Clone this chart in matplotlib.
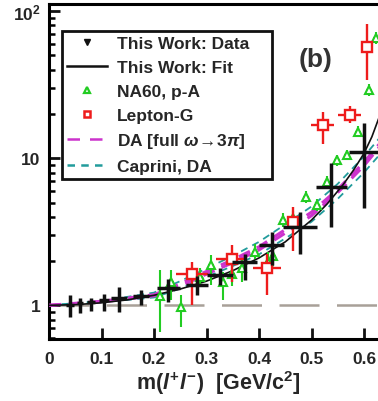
import numpy as np
import matplotlib
matplotlib.use("Agg")
import matplotlib.pyplot as plt
from matplotlib.lines import Line2D
from matplotlib.ticker import FixedLocator, FixedFormatter, LogLocator, NullFormatter

plt.rcParams['font.family'] = ['Liberation Sans', 'DejaVu Sans']
plt.rcParams['mathtext.fontset'] = 'custom'
plt.rcParams['mathtext.rm'] = 'Liberation Sans:bold'
plt.rcParams['mathtext.bf'] = 'Liberation Sans:bold'
plt.rcParams['mathtext.it'] = 'Liberation Sans:bold:italic'

# This Work: data (x, xerr, y, y_low, y_high)
data_x = [0.040, 0.059, 0.080, 0.105, 0.133, 0.175, 0.227, 0.281, 0.326, 0.373, 0.424, 0.478, 0.538, 0.600]
data_xerr = [0.008, 0.006, 0.007, 0.010, 0.015, 0.015, 0.022, 0.021, 0.025, 0.024, 0.024, 0.032, 0.029, 0.029]
data_y = [1.01, 1.03, 1.05, 1.08, 1.12, 1.16, 1.31, 1.38, 1.62, 1.98, 2.56, 3.42, 6.41, 11.1]
data_lo = [0.83, 0.89, 0.91, 0.91, 0.90, 1.00, 1.05, 1.17, 1.37, 1.48, 1.87, 2.25, 3.42, 4.56]
data_hi = [1.17, 1.12, 1.13, 1.20, 1.33, 1.27, 1.52, 1.59, 1.78, 2.25, 3.16, 4.33, 9.25, 17.3]

# This Work: fit curve
fit_x = [0.0, 0.05, 0.1, 0.15, 0.2, 0.25, 0.3, 0.35, 0.4, 0.45, 0.5, 0.53, 0.56, 0.58, 0.6, 0.615, 0.63]
fit_y = [1.0, 1.01, 1.04, 1.09, 1.17, 1.29, 1.46, 1.72, 2.1, 2.7, 3.8, 4.9, 6.6, 8.3, 10.8, 14.0, 19.5]

# NA60, p-A
na60_x = [0.211, 0.232, 0.251, 0.288, 0.308, 0.331, 0.348, 0.367, 0.392, 0.418, 0.427, 0.446, 0.465, 0.490, 0.510, 0.529, 0.548, 0.568, 0.589, 0.610, 0.623]
na60_y = [1.15, 1.44, 0.975, 1.56, 1.87, 1.44, 1.64, 1.78, 2.30, 1.98, 2.15, 3.80, 3.90, 5.48, 4.80, 6.95, 9.70, 10.5, 15.2, 29.0, 66.0]
na60_lo = [0.66, 1.08, 0.71, 1.35, 1.37, 1.08, 1.35, 1.45, 2.05, 1.70, 1.85, 3.40, 3.50, 5.00, 4.35, 6.40, 8.90, 9.70, 14.0, 26.5, 60.0]
na60_hi = [1.75, 1.73, 1.17, 1.80, 2.19, 1.69, 1.95, 2.10, 2.60, 2.30, 2.50, 4.25, 4.35, 6.00, 5.30, 7.60, 10.6, 11.4, 16.5, 32.0, 72.0]

# Lepton-G
lep_x = [0.272, 0.348, 0.415, 0.465, 0.521, 0.573, 0.605]
lep_xerr = [0.031, 0.030, 0.026, 0.012, 0.022, 0.022, 0.010]
lep_y = [1.64, 2.08, 1.78, 3.70, 16.9, 19.7, 56.7]
lep_lo = [1.00, 1.44, 1.17, 2.33, 12.6, 17.3, 34.2]
lep_hi = [1.98, 2.56, 2.25, 4.68, 20.8, 22.5, 81.5]

# DA [full omega->3pi] band and Caprini band
band_x = [0.0, 0.1, 0.2, 0.25, 0.3, 0.35, 0.4, 0.45, 0.5, 0.55, 0.6, 0.63]
da_hi = [1.0, 1.065, 1.18, 1.40, 1.70, 2.04, 2.50, 3.27, 4.30, 6.15, 9.4, 12.6]
da_lo = [1.0, 1.055, 1.16, 1.35, 1.63, 1.95, 2.38, 3.10, 4.07, 5.85, 8.9, 12.0]
cap_hi = [1.0, 1.07, 1.22, 1.46, 1.78, 2.17, 2.70, 3.55, 4.70, 6.70, 10.3, 13.8]
cap_lo = [1.0, 1.05, 1.13, 1.30, 1.56, 1.85, 2.22, 2.85, 3.70, 5.30, 8.0, 10.6]

black = '#111111'
green = '#22cc22'
red = '#ee1c1c'
magenta = '#cc33cc'
cyan = '#229c9c'
grey = '#a8a098'
textc = '#262626'

fig = plt.figure(figsize=(3.78, 4.02), dpi=100)
ax = fig.add_axes([49 / 378, 62 / 402, 367.5 / 378, 335 / 402])

ax.axhline(1.0, color=grey, lw=1.8, dashes=(16, 7), zorder=1)

for yy in (cap_hi, cap_lo):
    ax.plot(band_x, yy, color=cyan, lw=1.3, dashes=(4, 3), zorder=3)
for yy in (da_hi, da_lo):
    ax.plot(band_x, yy, color=magenta, lw=2.2, dashes=(4, 2.5), zorder=3)

ax.plot(fit_x, fit_y, color=black, lw=1.2, zorder=4)

na60_err = [np.array(na60_y) - np.array(na60_lo), np.array(na60_hi) - np.array(na60_y)]
ax.errorbar(na60_x, na60_y, yerr=na60_err, xerr=0.006, fmt='^', ms=5.5, mfc='white',
            mec=green, mew=1.5, color=green, elinewidth=1.5, capsize=0, zorder=5)

lep_err = [np.array(lep_y) - np.array(lep_lo), np.array(lep_hi) - np.array(lep_y)]
ax.errorbar(lep_x, lep_y, yerr=lep_err, xerr=lep_xerr, fmt='s', ms=6.5, mfc='white',
            mec=red, mew=1.7, color=red, elinewidth=1.7, capsize=0, zorder=6)

data_err = [np.array(data_y) - np.array(data_lo), np.array(data_hi) - np.array(data_y)]
ax.errorbar(data_x, data_y, yerr=data_err, xerr=data_xerr, fmt='none',
            color=black, elinewidth=2.5, capsize=0, zorder=7)

ax.set_yscale('log')
ax.set_xlim(0, 0.7)
ax.set_ylim(0.59, 112)

ax.xaxis.set_major_locator(FixedLocator([0, 0.1, 0.2, 0.3, 0.4, 0.5, 0.6]))
ax.xaxis.set_major_formatter(FixedFormatter(['0', '0.1', '0.2', '0.3', '0.4', '0.5', '0.6']))
ax.yaxis.set_major_locator(FixedLocator([1, 10, 100]))
ax.yaxis.set_major_formatter(FixedFormatter(['1', '10', r'$\mathbf{10^{2}}$']))
ax.yaxis.set_minor_locator(LogLocator(base=10, subs=np.arange(2, 10)))
ax.yaxis.set_minor_formatter(NullFormatter())

ax.tick_params(axis='both', which='major', direction='in', length=8, width=2,
               labelsize=12.5, colors=black)
ax.tick_params(axis='x', which='major', pad=9)
ax.tick_params(axis='y', which='major', pad=6)
ax.tick_params(axis='y', which='minor', direction='in', length=4, width=1.8)
for lab in ax.get_xticklabels() + ax.get_yticklabels():
    lab.set_fontweight('bold')
    lab.set_color(textc)
for s in ax.spines.values():
    s.set_linewidth(2.2)

ax.set_xlabel(r'm($\mathit{l}^{+}\mathit{l}^{-}$)  [GeV/c$^{2}$]', fontsize=15.5,
              fontweight='bold', color=textc)
ax.xaxis.set_label_coords((218 - 49) / 367.5, -0.088)
ax.xaxis.label.set_va('top')

ax.text(0.507, 47, '(b)', fontsize=19, fontweight='bold', color='#333333',
        ha='center', va='center')

handles = [
    Line2D([], [], color=black, marker='v', ls='none', ms=4.5),
    Line2D([], [], color=black, lw=1.8),
    Line2D([], [], color=green, marker='^', ls='none', ms=5, mfc='white', mew=1.6),
    Line2D([], [], color=red, marker='s', ls='none', ms=5, mfc='white', mew=1.8),
    Line2D([], [], color=magenta, lw=1.8, dashes=(5, 4)),
    Line2D([], [], color=cyan, lw=1.8, dashes=(3, 2.5)),
]
labels = ['This Work: Data', 'This Work: Fit', 'NA60, p-A', 'Lepton-G',
          r'DA [full $\omega\!\rightarrow\!3\pi$]', 'Caprini, DA']
leg = ax.legend(handles, labels, loc='upper left',
                bbox_to_anchor=(0.035, 0.50, 0.571, 0.42), mode='expand',
                borderaxespad=0, fancybox=False, framealpha=1, edgecolor=black,
                prop={'weight': 'bold', 'size': 12.5}, handlelength=2.3,
                handletextpad=0.55, labelspacing=0.5, borderpad=0.3)
leg.get_frame().set_linewidth(2)
for t in leg.get_texts():
    t.set_color(textc)

fig.savefig('out.png', dpi=100)
